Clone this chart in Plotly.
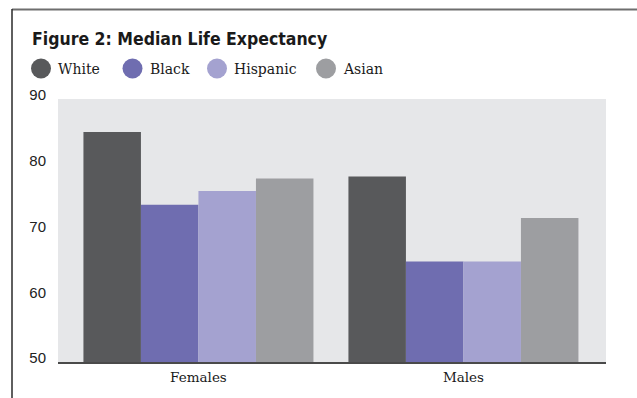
import plotly.graph_objects as go

# Chart data
categories = ["Females", "Males"]
groups = ["White", "Black", "Hispanic", "Asian"]
colors = ["#58595b", "#6f6db0", "#a4a2d0", "#9d9ea1"]
values = {
    "White": [85.0, 78.2],
    "Black": [73.9, 65.3],
    "Hispanic": [76.0, 65.3],
    "Asian": [77.9, 71.9],
}
y_ticks = [50, 60, 70, 80, 90]
title_text = "Figure 2: Median Life Expectancy"

W, H = 637, 398
L, R, T, B = 58, 31, 99, 36
PW, PH = W - L - R, H - T - B


def px(x):
    return (x - L) / PW


def py(y):
    return (H - B - y) / PH


SERIF = "DejaVu Serif, Liberation Serif, serif"
SANS = "Liberation Sans, Arial, sans-serif"
NARROW = "Liberation Sans Narrow, DejaVu Sans Condensed, Arial Narrow, sans-serif"

fig = go.Figure()
xpos = list(range(len(categories)))
for g, c in zip(groups, colors):
    fig.add_trace(go.Bar(
        x=xpos, y=values[g], name=g, marker=dict(color=c, line=dict(width=0)),
        showlegend=False, hoverinfo="skip",
    ))

shapes = [
    # outer frame: top rule and left rule
    dict(type="line", xref="paper", yref="paper", x0=px(12), x1=px(637), y0=py(9.5), y1=py(9.5),
         line=dict(color="#6e6e6e", width=2)),
    dict(type="line", xref="paper", yref="paper", x0=px(12), x1=px(12), y0=py(9), y1=py(398),
         line=dict(color="#2a2a2a", width=1.5)),
]
annotations = [
    dict(text="<b>" + title_text + "</b>", xref="paper", yref="paper", x=px(30), y=py(27),
         xanchor="left", yanchor="top", showarrow=False,
         font=dict(family=NARROW, size=17.5, color="#1a1a1a")),
]

# Legend with round swatches
legend_cx = [41, 132.5, 217, 326]
legend_cy = 68.5
rad = 10
for g, c, cx in zip(groups, colors, legend_cx):
    shapes.append(dict(type="circle", xref="paper", yref="paper",
                       x0=px(cx - rad), x1=px(cx + rad), y0=py(legend_cy + rad), y1=py(legend_cy - rad),
                       fillcolor=c, line=dict(width=0)))
    annotations.append(dict(text=g, xref="paper", yref="paper", x=px(cx + rad + 5), y=py(legend_cy),
                            xanchor="left", yanchor="middle", showarrow=False,
                            font=dict(family=SERIF, size=14, color="#1a1a1a")))

fig.update_layout(
    width=W, height=H,
    margin=dict(l=L, r=R, t=T, b=B, pad=0),
    paper_bgcolor="white",
    plot_bgcolor="#e6e7e9",
    barmode="group",
    bargap=0.132,
    bargroupgap=0,
    shapes=shapes,
    annotations=annotations,
    showlegend=False,
)
fig.update_xaxes(
    tickmode="array", tickvals=xpos, ticktext=categories,
    range=[-0.530, 1.538], showgrid=False, zeroline=False,
    showline=True, linecolor="#4a4a4a", linewidth=1.5,
    ticks="", ticklabelstandoff=2,
    tickfont=dict(family=SERIF, size=13.5, color="#1a1a1a"),
)
fig.update_yaxes(
    range=[50, 90], tickvals=y_ticks, showgrid=False, zeroline=False,
    showline=False, ticks="", ticklabelstandoff=11, ticklabelshift=-4,
    tickfont=dict(family=SANS, size=15, color="#222222"),
)

fig.write_html("out.html")
